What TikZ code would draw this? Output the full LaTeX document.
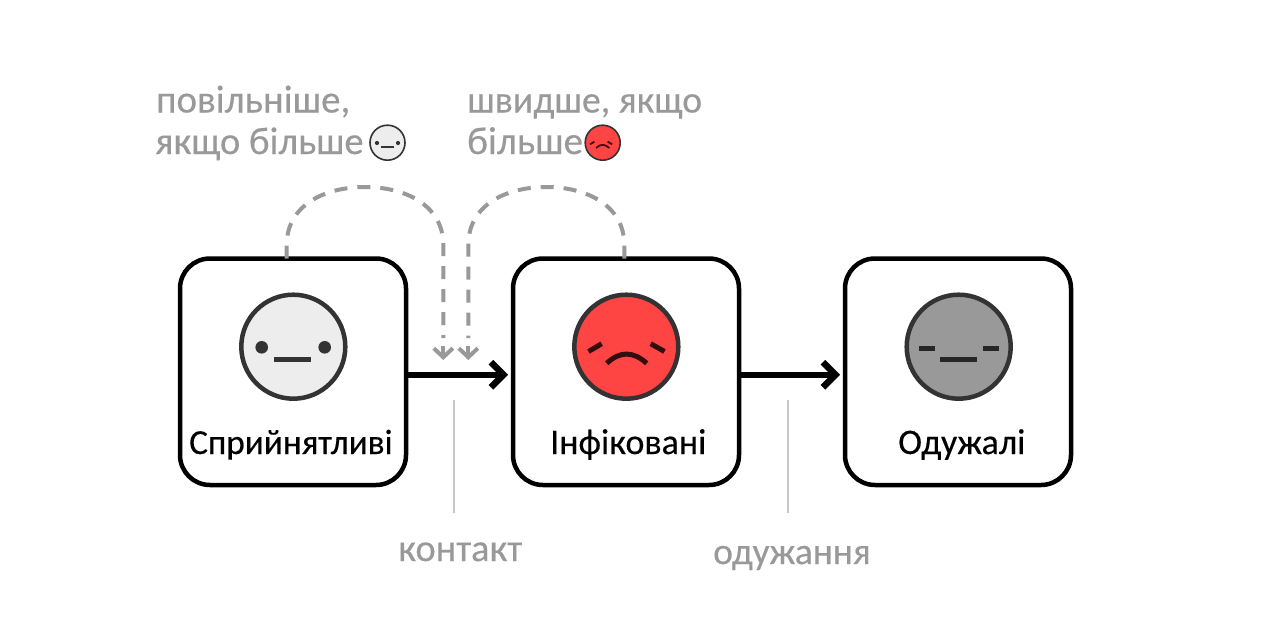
\documentclass[tikz,border=0pt]{standalone}
\usepackage{fontspec}
\setmainfont{Carlito}
\newfontfamily\heavyfont{Carlito}[FakeBold=0.35]
\usetikzlibrary{arrows.meta}
\definecolor{lab}{HTML}{999999}
\definecolor{facered}{HTML}{FF4444}
\definecolor{faceline}{HTML}{333333}
\tikzset{
  boxn/.style={draw=black,line width=4.5pt,rounded corners=30pt,minimum width=226pt,minimum height=226.5pt,outer sep=0pt,inner sep=0pt,fill=white},
  mainarrow/.style={draw=black,line width=6.5pt,-{Straight Barb[length=12.5pt,width=25pt,line width=6.5pt]}},
  infl/.style={draw=lab,line width=4pt,dash pattern=on 13pt off 10pt},
  inflhead/.style={draw=lab,line width=4pt,-{Straight Barb[length=9pt,width=19pt,line width=4pt]}},
  thinl/.style={draw=black!22,line width=2pt},
  labn/.style={text=lab,anchor=base west,inner sep=0pt},
  namen/.style={text=black,anchor=base west,inner sep=0pt},
  facebig/.style={circle,draw=faceline,line width=4.5pt,minimum size=104pt,inner sep=0pt,outer sep=0pt},
  facesmall/.style={circle,draw=faceline,line width=1.6pt,minimum size=35pt,inner sep=0pt,outer sep=0pt},
}
\newcommand{\fs}[1]{\heavyfont\fontsize{#1}{#1}\selectfont}
\begin{document}
\begin{tikzpicture}[x=1pt,y=-1pt]
\useasboundingbox (0,0) rectangle (1280,640);
\node[boxn] (s) at (293,371.75) {};
\node[boxn] (i) at (626,371.75) {};
\node[boxn] (r) at (958,371.75) {};
% arrows
\draw[mainarrow] ([yshift=-3pt]s.east) -- ([yshift=-3pt,xshift=-5pt]i.west);
\draw[mainarrow] ([yshift=-3pt]i.east) -- ([yshift=-3pt,xshift=-5pt]r.west);
% influence curves
\coordinate (ca) at (443.3,360);
\coordinate (cb) at (468.3,360);
\draw[infl] ([xshift=-6.3pt]s.north) -- (286.7,245) .. controls (286.7,205) and (325,187) .. (365,187) .. controls (405,187) and (443.3,205) .. (443.3,245) -- (443.3,338);
\draw[inflhead] (443.3,346) -- (ca);
\draw[infl] ([xshift=-1.7pt]i.north) -- (624.3,245) .. controls (624.3,205) and (586,187) .. (546.3,187) .. controls (506,187) and (468.3,205) .. (468.3,245) -- (468.3,338);
\draw[inflhead] (468.3,346) -- (cb);
% faces
\node[facebig,fill=black!7] (f1) at (293.3,346.7) {};
\fill[faceline] (261.7,347.3) circle (6.3pt) (324.7,347.3) circle (6.3pt);
\draw[faceline,line width=5pt] (274,359) -- (311.3,359);
\node[facebig,fill=facered] (f2) at (626.3,346.7) {};
\draw[black!80!facered,line width=5pt] (588.5,351.5) -- (601.7,343.7) (650.7,343.7) -- (664.5,351.5);
\draw[black!80!facered,line width=5pt] (606.7,363.3) .. controls (620,351) and (633,351) .. (646.7,363.3);
\node[facebig,fill=lab] (f3) at (958.7,346.7) {};
\draw[black!85,line width=5pt] (919.3,348) -- (935,348) (983.3,348) -- (998.7,348) (940,359) -- (976.7,359);
% small faces
\node[facesmall,fill=black!7] (f4) at (387.5,142.7) {};
\fill[faceline] (377,143) circle (2.1pt) (398,143) circle (2.1pt);
\draw[faceline,line width=1.7pt] (381.3,147) -- (393.7,147);
\node[facesmall,fill=facered] (f5) at (602.7,142.7) {};
\draw[black!80!facered,line width=1.7pt] (590,144.3) -- (594.4,141.7) (607.6,141.7) -- (612.2,144.3);
\draw[black!80!facered,line width=1.7pt] (596,148) .. controls (600.4,143.8) and (604.8,143.8) .. (609.4,148);
% thin lines
\coordinate (t1a) at (454,400); \coordinate (t1b) at (454,513);
\coordinate (t2a) at (787.7,400); \coordinate (t2b) at (787.7,513);
\draw[thinl] (t1a) -- (t1b);
\draw[thinl] (t2a) -- (t2b);
% labels
\node[namen,font=\fs{35.2}] (n1) at (189,454) {Сприйнятливі};
\node[namen,font=\fs{36}] (n2) at (550,454) {Інфіковані};
\node[namen,font=\fs{36}] (n3) at (898,454) {Одужалі};
\node[labn,font=\fs{39}] (l1) at (156,112.5) {повільніше,};
\node[labn,font=\fs{38.6}] (l2) at (155,154) {якщо більше};
\node[labn,font=\fs{37.8}] (l3) at (467,112.5) {швидше, якщо};
\node[labn,font=\fs{39}] (l4) at (467,154) {більше};
\node[labn,font=\fs{38.4}] (l5) at (398,561) {контакт};
\node[labn,font=\fs{37.5}] (l6) at (713,564) {одужання};
\end{tikzpicture}
\end{document}
